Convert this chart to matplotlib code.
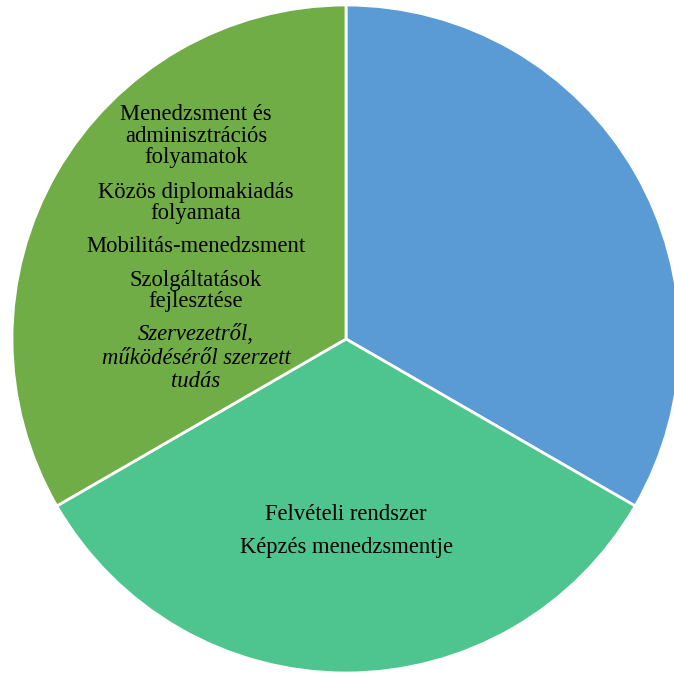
import matplotlib
matplotlib.use("Agg")
import matplotlib.pyplot as plt

# Adatok: három egyenlő szelet
slices = ["Szervezeti", "Hallgatói", "Egyéb"]
values = [1, 1, 1]
colors = ["#5B9BD5", "#4EC48E", "#70AD47"]

green_blocks = [
    ("Menedzsment és\nadminisztrációs\nfolyamatok", "normal"),
    ("Közös diplomakiadás\nfolyamata", "normal"),
    ("Mobilitás-menedzsment", "normal"),
    ("Szolgáltatások\nfejlesztése", "normal"),
    ("Szervezetről,\nműködéséről szerzett\ntudás", "italic"),
]
lower_blocks = ["Felvételi rendszer", "Képzés menedzsmentje"]

W, H = 674, 675
CX, CY, R = 346, 339, 334


def px(x, y):
    # pixel koordináta -> adat koordináta (kör középpontja 0,0, sugár 1)
    return (x - CX) / R, (CY - y) / R


fig = plt.figure(figsize=(W / 100, H / 100), dpi=100)
ax = fig.add_axes([0, 0, 1, 1])
ax.pie(values, colors=colors, startangle=90, counterclock=False,
       wedgeprops=dict(edgecolor="white", linewidth=2))
ax.set_xlim(-CX / R, (W - CX) / R)
ax.set_ylim(-(H - CY) / R, CY / R)
ax.set_aspect("auto")
ax.axis("off")

font = dict(family="Liberation Serif", fontsize=16.3, color="#000000",
            ha="center", va="center")

green_y = [136, 203, 246, 291, 358]
for (txt, style), y in zip(green_blocks, green_y):
    ls = 1.15 if style == "italic" else 1.02
    ax.text(*px(196, y), txt, style=style, linespacing=ls, **font)

lower_y = [515, 548]
for txt, y in zip(lower_blocks, lower_y):
    ax.text(*px(346, y), txt, **font)

fig.savefig("out.png", dpi=100)
